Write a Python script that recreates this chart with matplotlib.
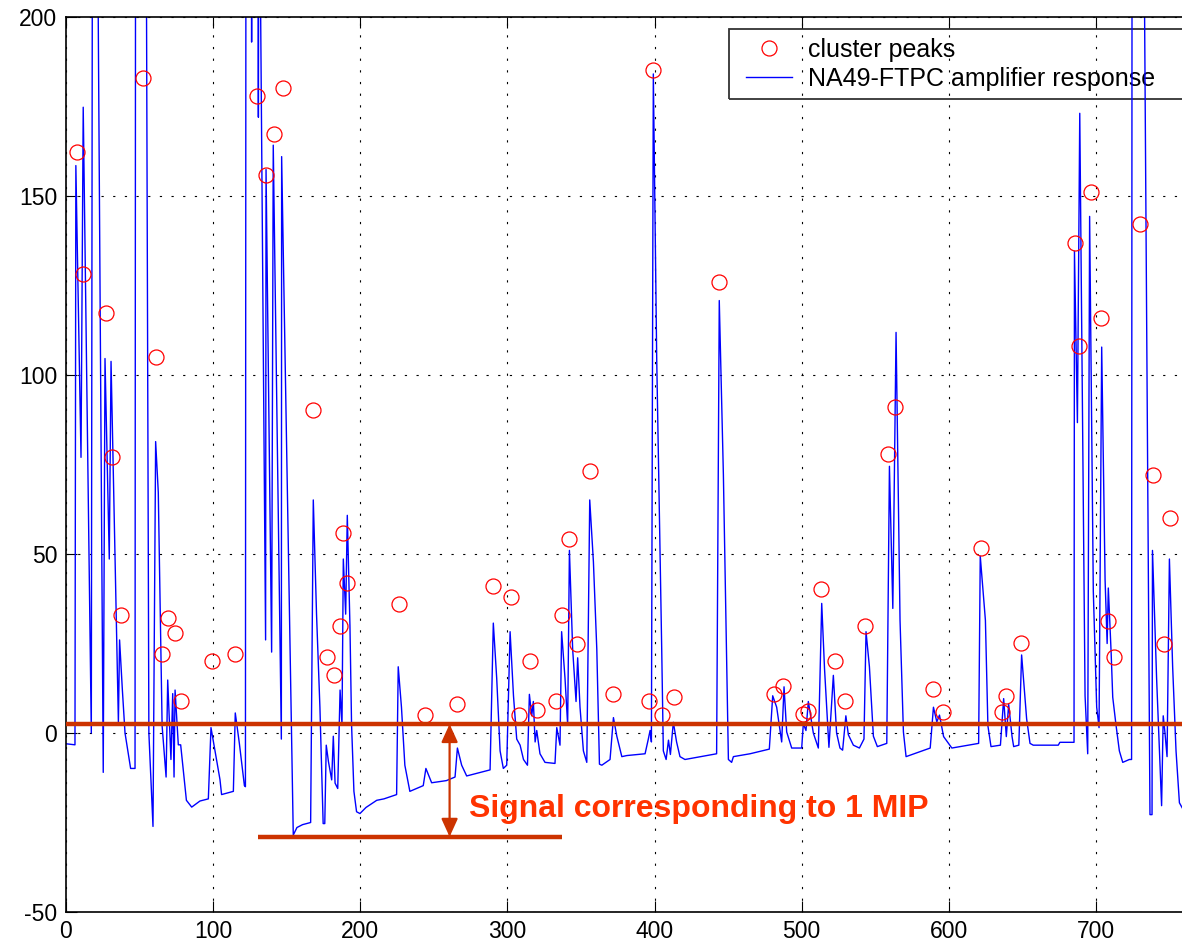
import matplotlib
matplotlib.use("Agg")
import matplotlib.pyplot as plt
from matplotlib.lines import Line2D
from matplotlib.legend_handler import HandlerLine2D

plt.rcParams['font.family'] = ['Liberation Sans', 'DejaVu Sans']
plt.rcParams['axes.unicode_minus'] = False

# Cluster peaks found by the peak finder: time bin and height (ADC counts)
peak_time = [7.9, 12.0, 27.4, 31.2, 37.3, 52.3, 61.1, 65.2, 69.3, 74.3, 78.1,
             99.2, 115.0, 130.2, 136.1, 141.5, 147.4, 168.2, 177.7, 182.0,
             186.1, 188.6, 191.3, 226.2, 244.1, 266.0, 290.5, 302.3, 308.2,
             315.4, 320.0, 332.9, 337.4, 341.9, 347.1, 356.2, 372.0, 396.1,
             399.2, 405.3, 413.2, 444.0, 481.2, 487.1, 501.1, 504.5, 513.3,
             522.4, 529.2, 543.0, 558.8, 563.4, 589.4, 595.8, 621.6, 636.2,
             638.7, 648.8, 685.7, 688.4, 696.3, 703.1, 708.3, 712.4, 729.8,
             738.4, 746.3, 750.2]
peak_height = [162.2, 128.1, 117.2, 77.1, 33.0, 183.1, 105.1, 22.1, 32.2, 28.0,
               9.0, 20.2, 22.1, 177.9, 156.0, 167.2, 180.2, 90.1, 21.1, 16.1,
               30.0, 56.0, 41.9, 36.1, 5.1, 8.2, 41.0, 38.0, 5.0, 20.2, 6.4,
               9.0, 33.0, 54.1, 25.0, 73.1, 10.9, 9.0, 185.2, 5.0, 10.1, 126.0,
               11.0, 13.0, 5.2, 6.2, 40.1, 20.0, 8.8, 30.0, 78.0, 91.1, 12.2,
               6.0, 51.8, 6.0, 10.2, 25.2, 137.0, 108.0, 151.1, 115.8, 31.2,
               21.1, 142.1, 72.1, 25.0, 60.0]

# NA49-FTPC amplifier response (time bin, amplitude)
trace_time = [0, 6.3, 6.9, 10.4, 11.9, 17.4, 18.3, 20.1, 21.3, 25.5, 26.7, 29.6,
              30.8, 35.8, 36.6, 38.5, 40.3, 44.1, 47.1, 47.6, 53.9, 56.5, 59.3,
              61.1, 62.9, 64.0, 65.5, 68.2, 69.3, 71.5, 72.7, 73.6, 74.3, 76.5,
              78.1, 82.0, 85.6, 91.2, 96.9, 98.7, 104.8, 105.9, 113.9, 115.2,
              118.0, 121.4, 122.1, 122.6, 126.0, 126.3, 126.6, 130.6, 130.9,
              131.3, 135.8, 136.1, 139.9, 141.0, 146.5, 146.7, 154.6, 157.1,
              160.9, 166.4, 168.2, 170.4, 172.7, 173.8, 174.9, 176.0, 177.0,
              178.5, 180.7, 181.8, 183.0, 184.8, 186.4, 187.7, 188.6, 190.2,
              191.3, 193.1, 194.2, 195.8, 197.6, 199.9, 204.0, 211.3, 216.2,
              224.8, 225.9, 228.1, 230.4, 233.8, 242.9, 244.7, 248.6, 258.6,
              264.5, 266.1, 269.0, 272.4, 288.3, 290.5, 292.8, 295.1, 297.3,
              299.6, 301.9, 304.2, 306.4, 308.7, 311.0, 313.7, 315.0, 316.6,
              317.7, 318.9, 320.0, 322.2, 325.6, 332.4, 333.6, 335.8, 336.9,
              339.2, 341.0, 342.2, 344.4, 346.7, 347.8, 349.4, 351.7, 354.0,
              356.0, 358.5, 360.8, 362.6, 364.2, 369.8, 372.1, 374.4, 377.8,
              381.2, 393.6, 395.8, 397.0, 397.9, 399.2, 401.5, 404.9, 406.0,
              407.9, 409.5, 410.8, 412.8, 415.0, 417.3, 420.7, 442.2, 444.0,
              446.8, 450.2, 452.4, 453.6, 464.9, 478.0, 480.3, 483.0, 486.4,
              488.0, 489.8, 493.2, 500.0, 501.1, 502.9, 504.5, 507.9, 511.3,
              513.6, 515.5, 518.5, 521.5, 523.7, 526.0, 527.8, 530.0, 531.7,
              535.1, 539.2, 542.3, 543.7, 546.0, 548.7, 551.4, 557.8, 559.6,
              561.9, 564.1, 566.8, 569.1, 570.9, 587.3, 589.5, 591.8, 593.6,
              596.4, 602.0, 620.2, 621.3, 624.8, 626.5, 628.6, 635.0, 637.2,
              639.0, 640.6, 642.9, 644.0, 647.5, 649.4, 652.8, 655.1, 657.3,
              674.3, 675.4, 685.0, 685.3, 687.3, 688.9, 692.5, 694.3, 695.6,
              698.1, 700.4, 702.0, 703.8, 706.1, 707.5, 708.3, 710.2, 711.3,
              713.5, 715.8, 718.1, 722.6, 724.1, 724.6, 730.5, 736.6, 738.0,
              738.3, 741.1, 744.5, 745.6, 746.8, 748.2, 749.8, 752.0, 754.3,
              756.6, 760.0]
trace_amp = [-3.0, -3.3, 158.5, 77.0, 174.8, 0.0, 280.0, 260.0, 250.0, -11.0,
             104.6, 48.6, 103.8, 3.0, 26.0, 12.0, 0.0, -9.9, -9.9, 330.0, 330.0,
             0.0, -26.1, 81.4, 67.2, 39.6, 2.0, -12.3, 14.8, -7.4, 11.0, -12.3,
             12.0, -3.3, -3.3, -18.8, -20.7, -19.0, -18.4, 1.5, -13.0, -17.2,
             -16.3, 5.6, -3.0, -14.7, -15.0, 350.0, 240.0, 193.0, 240.0, 240.0,
             172.0, 260.0, 26.0, 157.4, 22.6, 164.2, -1.7, 161.0, -28.5, -26.4,
             -25.6, -25.0, 65.1, 33.2, 7.2, -9.0, -25.3, -25.3, -3.4, -8.0,
             -13.1, -0.9, -14.0, -15.5, 12.0, 2.3, 48.6, 33.2, 60.8, 30.0, 2.3,
             -16.3, -22.0, -22.5, -20.8, -18.8, -18.4, -17.2, 18.5, 7.2, -9.0,
             -16.3, -14.7, -9.9, -13.9, -13.3, -12.3, -4.2, -9.0, -12.0, -10.3,
             30.7, 15.3, -5.0, -9.9, -9.0, 28.3, 10.4, -1.7, -3.4, -7.4, -9.0,
             10.8, 4.8, 8.8, -2.5, 0.7, -5.8, -8.2, -8.5, 1.5, -3.4, 28.3, 15.3,
             2.3, 51.0, 23.4, 8.8, 21.0, 7.2, -5.0, -8.2, 65.1, 47.8, 23.4,
             -8.7, -9.0, -7.4, 4.3, -0.9, -6.6, -6.3, -5.8, -1.7, 0.7, -2.5,
             184.1, 104.6, 23.4, -5.0, -7.4, -2.0, -6.0, 3.0, -2.5, -6.6, -7.4,
             -5.8, 120.8, 72.1, -7.4, -8.2, -6.6, -5.8, -4.5, 10.4, 7.2, -2.5,
             12.9, 0.3, -4.2, -4.2, 2.6, 0.7, 8.8, 0.0, -4.2, 36.2, 18.0, -4.0,
             16.1, 0.0, -4.2, -4.8, 4.8, -0.5, -3.4, -4.2, -1.7, 28.3, 18.5,
             -0.9, -3.8, -2.9, 74.5, 34.8, 111.9, 31.5, 0.3, -6.6, -4.2, 7.2,
             3.1, 5.0, -1.0, -4.2, -2.9, 49.4, 31.5, 2.0, -3.8, -3.4, 9.6, -1.0,
             8.0, -1.0, -3.8, -3.4, 21.8, 4.0, -2.9, -3.4, -3.4, -2.6, -2.6,
             134.6, 86.7, 173.1, 10.4, -5.8, 144.3, 39.6, 7.2, 1.5, 107.8, 42.8,
             25.0, 40.5, 22.6, 10.0, 2.3, -5.0, -8.2, -7.4, -7.4, 350.0, 350.0,
             -22.8, -22.8, 51.0, 15.3, -20.3, 4.8, 0.0, -6.6, 48.6, 18.5, -5.0,
             -19.5, -22.0]

x_ticks = [0, 100, 200, 300, 400, 500, 600, 700]
y_ticks = [-50, 0, 50, 100, 150, 200]

# 1 MIP annotation: signal level and the undershoot minimum it is measured from
mip_level = 2.5
undershoot_level = -29.0
undershoot_span = (130.6, 337.2)
arrow_time = 260.8
mip_label = 'Signal corresponding to 1 MIP'
mip_label_pos = (273.8, -23.6)

annot_line_color = '#cc3300'
annot_text_color = '#ff3300'

fig = plt.figure(figsize=(11.82, 9.46), dpi=100)
ax = fig.add_axes([65.7 / 1182, 34 / 946, 1177.6 / 1182, 895 / 946])

ax.plot(peak_time, peak_height, linestyle='none', marker='o', markersize=10.8,
        markerfacecolor='none', markeredgecolor='red', markeredgewidth=0.9,
        label='cluster peaks', zorder=3)
ax.plot(trace_time, trace_amp, color='blue', linewidth=1.0,
        label='NA49-FTPC amplifier response', zorder=2)

ax.set_xlim(0, 800)
ax.set_ylim(-50, 200)
ax.set_xticks(x_ticks)
ax.set_yticks(y_ticks)
ax.tick_params(direction='in', length=8, width=0.8, top=True, right=True,
               labelsize=16.5, pad=6)
for sp in ax.spines.values():
    sp.set_linewidth(1.2)
ax.grid(True, color='black', linestyle=(0, (2, 8.5)), linewidth=0.8)

# MIP annotation
ax.axhline(mip_level, color=annot_line_color, linewidth=3.2, zorder=4)
ax.plot(undershoot_span, [undershoot_level, undershoot_level],
        color=annot_line_color, linewidth=3.2, zorder=4, solid_capstyle='butt')
ax.annotate('', xy=(arrow_time, undershoot_level), xytext=(arrow_time, mip_level),
            arrowprops=dict(arrowstyle='<|-|>,head_length=0.55,head_width=0.25',
                            color=annot_line_color, lw=1.6, mutation_scale=20,
                            shrinkA=0, shrinkB=0), zorder=4)
ax.text(mip_label_pos[0], mip_label_pos[1], mip_label, color=annot_text_color,
        fontsize=23, fontweight='bold', ha='left', va='baseline', zorder=5)

# Legend box runs past the right edge of the figure
leg_top = 1 - 29.3 / 946
leg = ax.legend(loc='upper left',
                bbox_to_anchor=(729.3 / 1182, leg_top - 0.1, 560 / 1182, 0.1),
                bbox_transform=fig.transFigure, mode='expand',
                fontsize=18, frameon=True, fancybox=False,
                edgecolor='black', facecolor='none',
                borderpad=0.33, labelspacing=0.22, handlelength=2.16,
                handletextpad=0.64, borderaxespad=0.0,
                handler_map={Line2D: HandlerLine2D(xpad=0.32)})
leg.get_frame().set_linewidth(1.3)
leg.set_zorder(1.5)

fig.savefig('out.png', dpi=100)
